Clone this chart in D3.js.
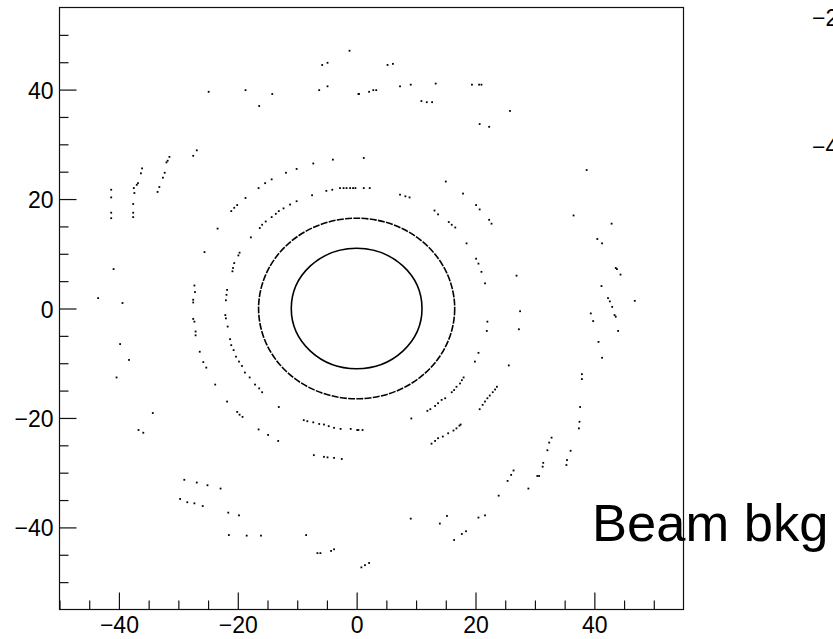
<!DOCTYPE html>
<html>
<head>
<meta charset="utf-8">
<script src="https://cdn.jsdelivr.net/npm/d3@7"></script>
<style>
  body { margin: 0; background: #fff; }
  svg { display: block; font-family: "Liberation Sans", Arial, sans-serif; }
</style>
</head>
<body>
<div id="chart"></div>
<script>
// hit positions in detector units, grouped by layer
var ringRadii = [11, 16.5];

var layer3 = [
  [-2.8,22.0],[-2.2,22.0],[-1.7,22.0],[-1.1,22.0],[-0.6,22.0],[-0.2,22.0],[1.2,22.0],[2.2,22.0],
  [-4.1,21.7],[-5.1,21.5],[-7.5,20.7],[-10.1,19.6],[-11.2,19.0],[-12.3,18.3],[-13.1,17.8],
  [-13.6,17.3],[-14.3,16.7],[-15.3,15.9],[-15.9,15.3],[-16.3,14.7],[-17.8,13.0],[-19.7,10.2],
  [-19.9,9.7],[-20.6,8.3],[-20.8,7.4],[-20.9,6.8],[-21.8,3.4],[-21.9,2.5],[-22.0,1.5],
  [-22.1,-1.2],[-22.0,-1.8],[-21.7,-3.3],[-21.3,-5.6],[-21.1,-6.7],[-20.7,-7.6],[-20.3,-8.8],
  [-19.8,-9.7],[-19.3,-10.5],[-18.8,-11.7],[-18.0,-12.6],[-17.1,-13.9],[-16.4,-14.6],[-15.9,-15.3],
  [-13.1,-18.0],[-8.9,-20.4],[-8.3,-20.6],[-7.3,-20.8],[-6.3,-21.1],[-5.5,-21.2],[-4.7,-21.5],
  [-3.8,-21.8],[-2.7,-22.0],[-1.0,-22.0],[0.1,-22.2],[0.3,-22.2],[1.0,-22.2],[9.2,-20.1],
  [11.9,-18.7],[12.4,-18.4],[13.2,-17.8],[13.7,-17.3],[14.3,-16.7],[14.9,-16.4],[16.0,-15.3],
  [16.4,-14.9],[16.8,-14.3],[17.4,-13.7],[17.7,-13.1],[18.0,-12.6],[19.9,-9.7],[20.5,-8.1],
  [21.9,-4.1],[22.0,-2.4],[21.6,4.6],[21.0,6.7],[20.5,8.2],[20.1,9.1],[18.5,11.9],
  [16.6,14.8],[16.0,15.3],[15.5,15.8],[13.7,17.2],[13.1,17.9],[8.9,20.3],[8.2,20.5],[7.3,20.8]
];

var layer4 = [
  [1.2,27.5],[-4.0,27.2],[-7.3,26.5],[-10.1,25.5],[-11.9,24.8],[-14.3,23.6],[-15.4,22.9],
  [-16.5,22.0],[-18.7,20.2],[-20.1,18.9],[-20.6,18.4],[-21.1,17.8],[-23.4,14.6],[-25.6,10.3],
  [-27.3,4.2],[-27.2,3.0],[-27.5,1.6],[-27.5,1.1],[-27.5,-1.9],[-27.3,-2.4],[-27.1,-4.2],
  [-27.1,-4.9],[-26.4,-7.9],[-25.8,-9.8],[-25.3,-10.8],[-23.8,-13.9],[-21.8,-17.0],[-20.1,-18.9],
  [-19.7,-19.4],[-19.2,-19.8],[-16.5,-22.1],[-14.9,-23.1],[-13.2,-24.2],
  [-7.2,-26.8],[-5.5,-27.1],[-4.9,-27.2],[-3.8,-27.3],[-2.5,-27.5],
  [12.6,-24.7],[13.2,-24.2],[13.7,-23.7],[14.5,-23.4],[15.4,-22.8],[16.3,-22.3],[16.8,-21.9],
  [17.3,-21.4],[17.5,-21.2],[20.7,-18.4],[21.2,-17.6],[21.6,-17.0],[22.0,-16.4],[22.4,-15.9],
  [22.9,-15.3],[23.3,-14.8],[23.6,-14.3],[25.6,-10.4],[27.3,-3.8],[27.5,-0.5],[26.9,6.0],
  [22.7,15.5],[22.3,16.2],[20.7,18.1],[20.1,18.9],[17.9,21.0],[15.0,23.2]
];

var outerHits = [
  [-1.2,47.1],[-5.8,44.5],[-4.9,44.9],[-6.3,39.9],[-4.9,40.6],[0.3,39.2],[-24.9,39.6],
  [-18.7,39.9],[-16.4,37.0],[-14.2,39.2],
  [5.2,44.5],[6.1,44.7],[7.3,40.6],[9.1,40.9],[13.3,41.1],[19.4,40.9],[20.6,40.9],[21.0,40.9],
  [0.4,39.2],[2.1,39.6],[2.8,39.9],[3.3,39.9],[10.9,37.9],[11.8,37.7],[12.7,37.7],[25.8,36.1],
  [20.7,33.7],[22.3,33.2],
  [-27.5,27.9],[-26.9,28.9],[-31.5,27.7],[-31.8,27.0],[-32.0,26.7],[-36.1,25.6],[-36.3,24.7],
  [-32.3,24.8],[-32.6,23.9],[-33.2,22.2],[-33.5,21.3],[-36.8,22.9],[-37.0,22.6],[-37.5,22.0],
  [-37.4,21.1],[-37.6,19.1],[-37.6,17.5],[-37.6,16.7],[-41.3,21.7],[-41.3,20.3],[-41.3,17.5],
  [-41.3,16.5],[-40.9,7.2],[-43.5,1.9],[-39.4,1.0],
  [38.7,25.3],[36.5,17.0],[42.9,15.5],[40.5,12.7],[41.3,11.9],[43.6,7.4],[43.8,7.2],[44.4,6.2],
  [41.2,4.1],[42.3,1.9],[42.6,1.3],[43.0,0.3],[46.8,1.4],
  [39.4,-0.9],[39.8,-2.3],[43.4,-1.2],[43.6,-1.5],[44.0,-4.1],[40.7,-6.1],[41.3,-9.0],
  [37.9,-12.0],[37.9,-12.9],[37.6,-18.0],[37.5,-20.7],[37.4,-21.9],[36.0,-26.0],[35.4,-27.7],
  [35.3,-28.6],[32.8,-23.6],[32.4,-24.5],[32.1,-25.9],[31.4,-28.2],[31.3,-28.9],[30.7,-30.6],
  [30.4,-30.6],[28.9,-32.9],[26.4,-29.6],[26.0,-30.4],[25.4,-31.5],[23.9,-34.2],[21.6,-37.8],
  [20.5,-38.2],[15.2,-37.9],[14.0,-39.3],[9.1,-38.4],[18.4,-40.7],[17.7,-41.2],[16.4,-42.3],
  [2.1,-46.5],[1.4,-46.9],[0.8,-47.3],
  [-39.8,-6.5],[-38.3,-9.4],[-40.4,-12.6],[-34.3,-19.1],[-36.7,-22.2],[-35.9,-22.7],
  [-29.0,-31.3],[-26.9,-31.8],[-25.1,-32.3],[-22.9,-32.9],[-29.7,-34.8],[-28.5,-35.4],
  [-27.3,-35.6],[-25.9,-36.1],[-21.6,-37.3],[-19.8,-37.8],[-21.5,-41.4],[-18.5,-41.5],
  [-16.1,-41.5],[-8.5,-41.4],[-6.6,-44.7],[-6.1,-44.7],[-4.3,-44.3],[-3.8,-44.0]
];

var xDomain = [-50, 55];
var yDomain = [-55, 55];
var majorTicks = [-40, -20, 0, 20, 40];
var minorTicks = [-50, -45, -35, -30, -25, -15, -10, -5, 5, 10, 15, 25, 30, 35, 45, 50, 55];
var sideLabels = ["−20", "−40"];

var width = 833, height = 639;
var frame = {left: 59.5, right: 683.5, top: 7.5, bottom: 609.5};

var svg = d3.select("#chart").append("svg")
    .attr("width", width)
    .attr("height", height);

var x = d3.scaleLinear().domain(xDomain).range([frame.left, frame.right]);
var y = d3.scaleLinear().domain(yDomain).range([frame.bottom, frame.top]);

// frame
svg.append("rect")
    .attr("x", frame.left)
    .attr("y", frame.top)
    .attr("width", frame.right - frame.left)
    .attr("height", frame.bottom - frame.top)
    .attr("fill", "none")
    .attr("stroke", "#111")
    .attr("stroke-width", 1.2);

// axes: ticks point into the frame
function styleAxis(g) {
    g.select(".domain").remove();
    g.selectAll("line").attr("stroke", "#111").attr("stroke-width", 1.2);
    g.selectAll("text")
        .attr("fill", "#000")
        .style("font-size", "23px")
        .style("font-family", "'Liberation Sans', Arial, sans-serif");
}

var xMajor = d3.axisBottom(x).tickValues(majorTicks).tickSizeInner(-17).tickSizeOuter(0).tickPadding(7);
var xMinor = d3.axisBottom(x).tickValues(minorTicks.filter(function (v) { return v < 55; }))
    .tickSizeInner(-9).tickSizeOuter(0).tickFormat("");

svg.append("g")
    .attr("transform", "translate(0," + frame.bottom + ")")
    .call(xMajor)
    .call(styleAxis);
svg.append("g")
    .attr("transform", "translate(0," + frame.bottom + ")")
    .call(xMinor)
    .call(styleAxis);

var yMajor = d3.axisLeft(y).tickValues(majorTicks).tickSizeInner(-17).tickSizeOuter(0).tickPadding(6);
var yMinor = d3.axisLeft(y).tickValues(minorTicks.filter(function (v) { return v > -55 && v < 55; }))
    .tickSizeInner(-9).tickSizeOuter(0).tickFormat("");

var yAxisG = svg.append("g")
    .attr("transform", "translate(" + frame.left + ",0)")
    .call(yMajor)
    .call(styleAxis);
yAxisG.selectAll("text").attr("dy", "0.37em");
svg.append("g")
    .attr("transform", "translate(" + frame.left + ",0)")
    .call(yMinor)
    .call(styleAxis);

// dense inner layers, hits so close they read as a line
svg.selectAll(".ring")
    .data(ringRadii)
    .enter().append("ellipse")
    .attr("class", "ring")
    .attr("cx", x(0))
    .attr("cy", y(0))
    .attr("rx", function (d) { return x(d) - x(0); })
    .attr("ry", function (d) { return y(0) - y(d); })
    .attr("fill", "none")
    .attr("stroke", "#000")
    .attr("stroke-width", 1.6)
    .attr("stroke-dasharray", function (d, i) { return i == 0 ? null : "7,1.3"; });

// individual hits
var allHits = layer3.concat(layer4).concat(outerHits);
svg.selectAll(".hit")
    .data(allHits)
    .enter().append("rect")
    .attr("class", "hit")
    .attr("x", function (d) { return x(d[0]) - 0.9; })
    .attr("y", function (d) { return y(d[1]) - 0.9; })
    .attr("width", 1.8)
    .attr("height", 1.8)
    .attr("fill", "#000");

// labels of the neighbouring pad, cut by the page edge
svg.selectAll(".side")
    .data(sideLabels)
    .enter().append("text")
    .attr("class", "side")
    .attr("x", 812)
    .attr("y", function (d, i) { return i == 0 ? 26 : 155; })
    .style("font-size", "23px")
    .text(function (d) { return d; });

svg.append("text")
    .attr("x", 592)
    .attr("y", 541)
    .style("font-size", "52.5px")
    .attr("fill", "#000")
    .text("Beam bkg");
</script>
</body>
</html>
